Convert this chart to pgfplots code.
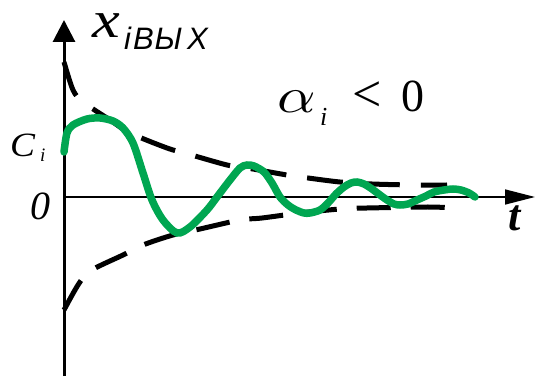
\documentclass[border=0pt]{standalone}
\usepackage{pgfplots}
\pgfplotsset{compat=1.18}
\usepackage{graphicx}
\usepackage{fontspec}
\setmainfont{Liberation Serif}
\newfontfamily\arialfont{Liberation Sans}
\usetikzlibrary{arrows.meta}
\definecolor{respgreen}{RGB}{0,166,81}

\begin{document}
\begin{tikzpicture}
\begin{axis}[
  scale only axis, width=537pt, height=376pt,
  xmin=-64, xmax=473, ymin=-179, ymax=197,
  axis lines=none, clip=false,
]
% fixed drawing area
\path (axis cs:-64,-179) rectangle (axis cs:473,197);

% coordinate axes
\draw[line width=3pt, -{Triangle[length=22pt,width=22pt]}]
  (axis cs:0,-179) -- (axis cs:0,177);
\draw[line width=1.5pt, -{Triangle[length=30pt,width=15pt]}]
  (axis cs:0,0) -- (axis cs:471,0);

% upper envelope
\addplot[black, line width=5pt, smooth, dash pattern=on 36pt off 21pt] coordinates {
  (0,135) (9,107) (19,95) (46,77) (66,64) (103,49) (124,43)
  (163,32) (183,29) (223,22) (244,19) (276,15) (308,13) (349,12) (383,12)
};
% lower envelope
\addplot[black, line width=5pt, smooth, dash pattern=on 34pt off 20pt] coordinates {
  (0,-113) (14,-88) (26,-74) (59,-58) (79,-48) (109,-38) (136,-32)
  (176,-23) (198,-21) (236,-16) (276,-12) (303,-11) (364,-10) (390,-11)
};

% damped response
\addplot[respgreen, line width=7.5pt, smooth, line cap=round] coordinates {
  (0,45) (3,64) (9,72) (23,78) (36,79) (49,76) (59,69) (69,54) (79,24)
  (88,-3) (99,-23) (113,-36) (126,-30) (143,-13) (153,0) (166,17)
  (176,29) (183,32) (190,31) (200,25) (208,14) (216,0) (224,-8)
  (232,-13) (240,-16) (246,-16) (256,-13) (264,-6) (272,3) (280,10)
  (287,14) (293,15) (300,13) (308,8) (316,2) (323,-3) (330,-7)
  (336,-8) (344,-7) (353,-3) (362,1) (370,5) (380,7) (389,8)
  (397,7) (405,4) (411,0)
};

% labels
\node[anchor=base west, inner sep=0pt, font=\fontsize{52}{52}\selectfont\itshape]
  at (axis cs:28,159) {\scalebox{1.2}[1]{x}};
\node[anchor=base west, inner sep=0pt, font=\arialfont\fontsize{31}{31}\selectfont\itshape]
  at (axis cs:60,147) {i\kern2ptВ\kern1ptЫ\kern5ptХ};
\node[anchor=base west, inner sep=0pt, font=\fontsize{34}{34}\selectfont\itshape]
  at (axis cs:-54,40) {\scalebox{1.1}[1]{C}};
\node[anchor=base west, inner sep=0pt, font=\fontsize{19}{19}\selectfont\itshape]
  at (axis cs:-24,35) {i};
\node[anchor=base west, inner sep=0pt, font=\fontsize{40}{40}\selectfont\itshape]
  at (axis cs:-34,-23) {0};
\node[anchor=base west, inner sep=0pt]
  at (axis cs:213,84) {\scalebox{6}[5]{$\alpha$}};
\node[anchor=base west, inner sep=0pt, font=\fontsize{26}{26}\selectfont\itshape]
  at (axis cs:256,71) {i};
\node[anchor=base west, inner sep=0pt, font=\fontsize{52}{52}\selectfont]
  at (axis cs:288,85) {<};
\node[anchor=base west, inner sep=0pt, font=\fontsize{46}{46}\selectfont]
  at (axis cs:337,85) {0};
\node[anchor=base west, inner sep=0pt, font=\fontsize{44}{44}\selectfont\bfseries\itshape]
  at (axis cs:444,-34) {t};
\end{axis}
\end{tikzpicture}
\end{document}
